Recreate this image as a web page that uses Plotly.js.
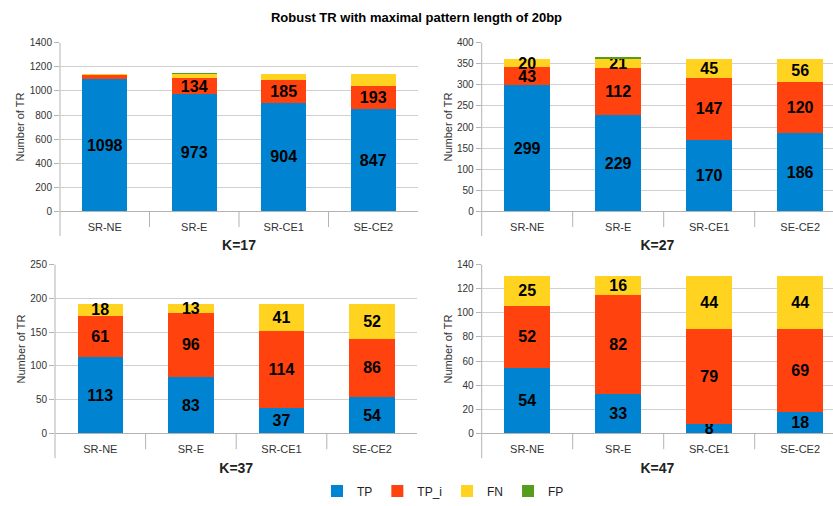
<!DOCTYPE html>
<html><head><meta charset="utf-8">
<script src="https://cdn.plot.ly/plotly-3.0.1.min.js"></script>
<style>html,body{margin:0;padding:0;background:#fff}</style>
</head><body><div id="chart" style="width:833px;height:506px"></div>
<script>
const categories = ['SR-NE', 'SR-E', 'SR-CE1', 'SE-CE2'];
const seriesNames = ['TP', 'TP_i', 'FN', 'FP'];
const panelTitles = ['K=17', 'K=27', 'K=37', 'K=47'];

const tpK17  = [1098, 973, 904, 847];
const tpiK17 = [32, 134, 185, 193];
const fnK17  = [15, 38, 56, 105];
const fpK17  = [0, 6, 0, 0];

const tpK27  = [299, 229, 170, 186];
const tpiK27 = [43, 112, 147, 120];
const fnK27  = [20, 21, 45, 56];
const fpK27  = [0, 4, 0, 0];

const tpK37  = [113, 83, 37, 54];
const tpiK37 = [61, 96, 114, 86];
const fnK37  = [18, 13, 41, 52];
const fpK37  = [0, 0, 0, 0];

const tpK47  = [54, 33, 8, 18];
const tpiK47 = [52, 82, 79, 69];
const fnK47  = [25, 16, 44, 44];
const fpK47  = [0, 0, 0, 0];

// which series carry value labels in each panel (TP, TP_i, FN, FP)
const labelledK17 = [true, true, false, false];
const labelledK27 = [true, true, true, false];
const labelledK37 = [true, true, true, false];
const labelledK47 = [true, true, true, false];

const yMax  = [1400, 400, 250, 140];
const yStep = [200, 50, 50, 20];

const panels = [
  [tpK17, tpiK17, fnK17, fpK17],
  [tpK27, tpiK27, fnK27, fpK27],
  [tpK37, tpiK37, fnK37, fpK37],
  [tpK47, tpiK47, fnK47, fpK47]
];
const labelled = [labelledK17, labelledK27, labelledK37, labelledK47];
const colors = ['#0084d1', '#ff420e', '#ffd320', '#579d1c'];

const W = 833, H = 506;
// pixel geometry of each panel: [left, right, bottom(y of zero), top]
const geo = [
  [60, 418, 213.3, 43.3],
  [481.7, 833, 213.3, 43.3],
  [55, 417.4, 437.7, 267.3],
  [481.7, 833, 437.7, 267.3]
];
const catWidthPx = [89.5, 91, 90.6, 91];

const FONT = 'Liberation Sans, Arial, sans-serif';
const traces = [];
const layout = {
  width: W, height: H,
  margin: {l: 0, r: 0, t: 0, b: 0},
  paper_bgcolor: '#fff', plot_bgcolor: '#fff',
  barmode: 'stack', bargap: 0.5,
  font: {family: FONT, color: '#333'},
  title: {text: 'Robust TR with maximal pattern length of 20bp', font: {family: FONT, size: 13, color: '#000', weight: 'bold'}, x: 0.5, xanchor: 'center', y: 1 - 17 / H, yanchor: 'middle'},
  showlegend: true,
  legend: {orientation: 'h', x: 443 / W, xanchor: 'center', y: 1 - 496 / H, yanchor: 'middle',
           font: {family: FONT, size: 12, color: '#222'}, itemwidth: 30, traceorder: 'normal'},
  shapes: []
};

panels.forEach((series, p) => {
  const n = p + 1;
  const xa = 'x' + (n === 1 ? '' : n), ya = 'y' + (n === 1 ? '' : n);
  const [l, r, b, t] = geo[p];
  const nCats = (r - l) / catWidthPx[p];
  series.forEach((vals, s) => {
    traces.push({
      type: 'bar', x: categories, y: vals, name: seriesNames[s],
      xaxis: xa, yaxis: ya,
      marker: {color: colors[s], line: {width: 0}},
      text: vals.map(v => (labelled[p][s] && v / yMax[p] >= 0.04 ? String(v) : '')),
      textposition: 'inside', insidetextanchor: 'middle', textangle: 0,
      constraintext: 'none', cliponaxis: false,
      insidetextfont: {family: FONT, size: 16, color: '#000', weight: 'bold'},
      legendgroup: seriesNames[s], showlegend: p === 0,
      hoverinfo: 'skip'
    });
  });
  layout['xaxis' + (n === 1 ? '' : n)] = {
    domain: [l / W, r / W], anchor: ya,
    type: 'category', range: [-0.5, nCats - 0.5],
    showgrid: false, zeroline: false, showline: false, ticks: '',
    tickfont: {family: FONT, size: 11, color: '#333'},
    ticklabelstandoff: 8,
    title: {text: panelTitles[p], font: {family: FONT, size: 14, color: '#222', weight: 'bold'}, standoff: 8},
    fixedrange: true
  };
  layout['yaxis' + (n === 1 ? '' : n)] = {
    domain: [1 - b / H, 1 - t / H], anchor: xa,
    range: [0, yMax[p]], dtick: yStep[p], tick0: 0,
    showgrid: true, gridcolor: '#d0d0d0', gridwidth: 1,
    zeroline: true, zerolinecolor: '#b3b3b3', zerolinewidth: 1,
    showline: false, ticks: 'outside', ticklen: 5, tickcolor: '#b3b3b3',
    tickfont: {family: FONT, size: 10, color: '#333'},
    title: {text: 'Number of TR', font: {family: FONT, size: 11, color: '#333'}, standoff: 2},
    fixedrange: true
  };
  const hPx = b - t;
  // left axis line extending below the plot
  layout.shapes.push({type: 'line', xref: xa + ' domain', yref: ya + ' domain', x0: 0, x1: 0, y0: -25 / hPx, y1: 1, line: {color: '#b3b3b3', width: 1}});
  // category separators below the axis
  for (let k = 0; k < categories.length - 1; k++) {
    layout.shapes.push({type: 'line', xref: xa, yref: ya + ' domain', x0: k + 0.5, x1: k + 0.5, y0: -16 / hPx, y1: 0, line: {color: '#b3b3b3', width: 1}});
  }
});

Plotly.newPlot('chart', traces, layout, {displayModeBar: false, staticPlot: true});
</script></body></html>
